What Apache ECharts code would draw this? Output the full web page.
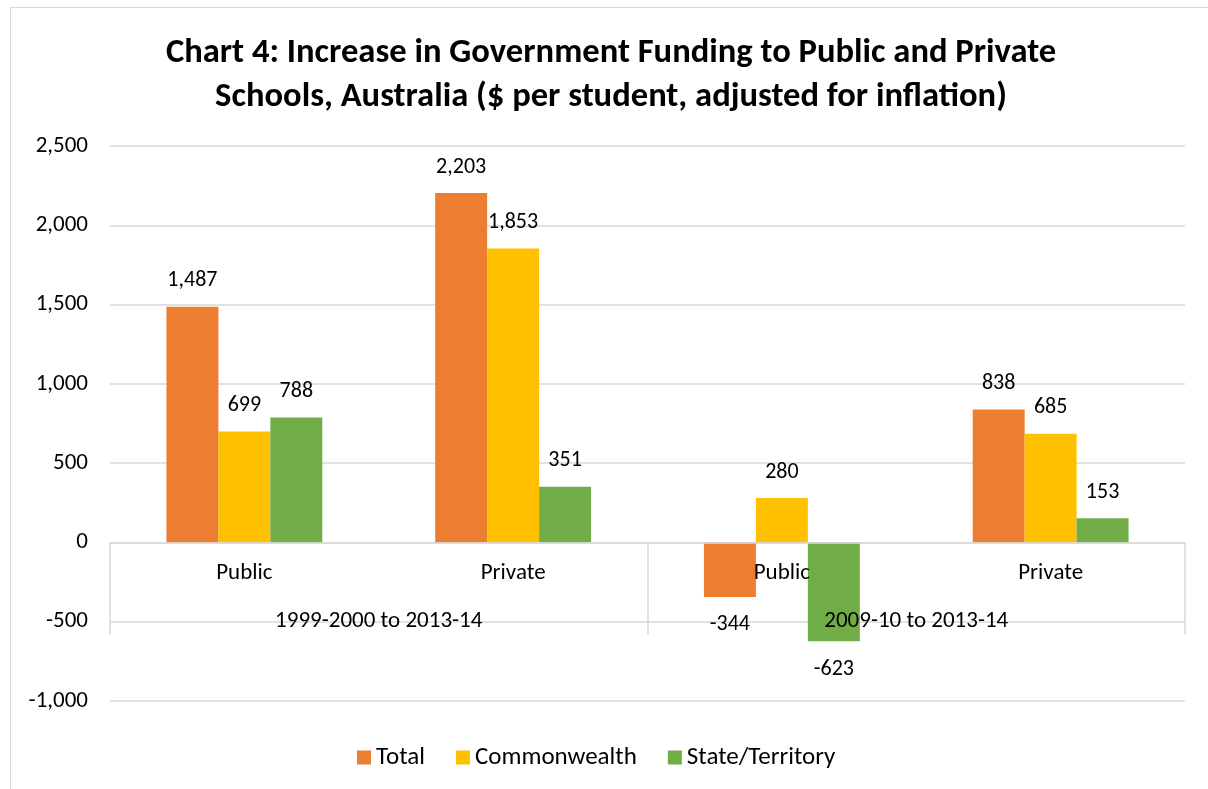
<!DOCTYPE html>
<html>
<head>
<meta charset="utf-8">
<style>
  html, body { margin: 0; padding: 0; background: #fff; overflow: hidden; }
  #chart { position: absolute; left: 10px; top: 7px; width: 1202px; height: 790px; }
</style>
<script src="https://cdn.jsdelivr.net/npm/echarts@6/dist/echarts.min.js"></script>
</head>
<body>
<div id="chart"></div>
<script>
// Sub-categories (school sector) and their period groups
const sectors = ['Public', 'Private', 'Public', 'Private'];
const periods = ['1999-2000 to 2013-14', '2009-10 to 2013-14'];

// Increase in funding, $ per student (real)
const total        = [1487, 2203, -344, 838];
const commonwealth = [699, 1853, 280, 685];
const stateTerr    = [788, 351, -623, 153];

// Value axis range and step
const yMin = -1000, yMax = 2500, yStep = 500;

const FONT = 'Carlito, Calibri, Lato, sans-serif';
const fmt = v => Number(v).toLocaleString('en-US');

// Plot box; both category axes sit on the zero line
const GRID_H = 555;
const zeroOffset = -GRID_H * (0 - yMin) / (yMax - yMin);

function barSeries(name, values, color) {
  return {
    name: name,
    type: 'bar',
    xAxisIndex: 0,
    z: 2,
    barGap: '0%',
    barCategoryGap: '42%',
    itemStyle: { color: color },
    data: values.map(v => ({
      value: v,
      label: { position: v < 0 ? 'bottom' : 'top', distance: v < 0 ? 17 : 15 }
    })),
    label: {
      show: true,
      fontFamily: FONT,
      fontSize: 22,
      color: '#000',
      formatter: p => fmt(p.value)
    }
  };
}

const chart = echarts.init(document.getElementById('chart'));
chart.setOption({
  animation: false,
  textStyle: { fontFamily: FONT },
  title: {
    text: 'Chart 4: Increase in Government Funding to Public and Private\nSchools, Australia ($ per student, adjusted for inflation)',
    left: 'center',
    top: 19,
    textStyle: { fontFamily: FONT, fontSize: 34.6, fontWeight: 'bold', color: '#000', lineHeight: 44 }
  },
  legend: {
    left: 342,
    top: 733,
    itemWidth: 14,
    itemHeight: 14,
    itemGap: 31,
    icon: 'rect',
    textStyle: { fontFamily: FONT, fontSize: 25, color: '#000' },
    data: ['Total', 'Commonwealth', 'State/Territory']
  },
  grid: { left: 100, top: 139, width: 1075, height: GRID_H, outerBoundsMode: 'none', containLabel: false },
  xAxis: [
    {
      type: 'category',
      position: 'bottom',
      offset: zeroOffset,
      z: 10,
      data: sectors,
      axisLine: { show: true, onZero: false, lineStyle: { color: '#d9d9d9', width: 1.5 } },
      axisTick: { show: false },
      axisLabel: { margin: 19, fontSize: 23, color: '#000', fontFamily: FONT },
      splitLine: { show: false }
    },
    {
      type: 'category',
      position: 'bottom',
      offset: zeroOffset,
      z: 10,
      data: periods,
      axisLine: { show: false, onZero: false },
      axisTick: { show: true, length: 92, lineStyle: { color: '#d9d9d9', width: 1.5 } },
      axisLabel: { margin: 67, fontSize: 23, color: '#000', fontFamily: FONT },
      splitLine: { show: false }
    }
  ],
  yAxis: {
    type: 'value',
    min: yMin,
    max: yMax,
    interval: yStep,
    axisLine: { show: false },
    axisTick: { show: false },
    axisLabel: { margin: 22, fontSize: 23, color: '#000', fontFamily: FONT, formatter: v => fmt(v) },
    splitLine: { lineStyle: { color: '#d9d9d9', width: 1.5 } }
  },
  graphic: [{
    type: 'rect',
    silent: true,
    z: -10,
    shape: { x: 0, y: 0, width: 1400, height: 1000 },
    style: { fill: 'none', stroke: '#d9d9d9', lineWidth: 2 }
  }],
  series: [
    barSeries('Total', total, '#ED7D31'),
    barSeries('Commonwealth', commonwealth, '#FFC000'),
    barSeries('State/Territory', stateTerr, '#70AD47')
  ]
});
</script>
</body>
</html>
